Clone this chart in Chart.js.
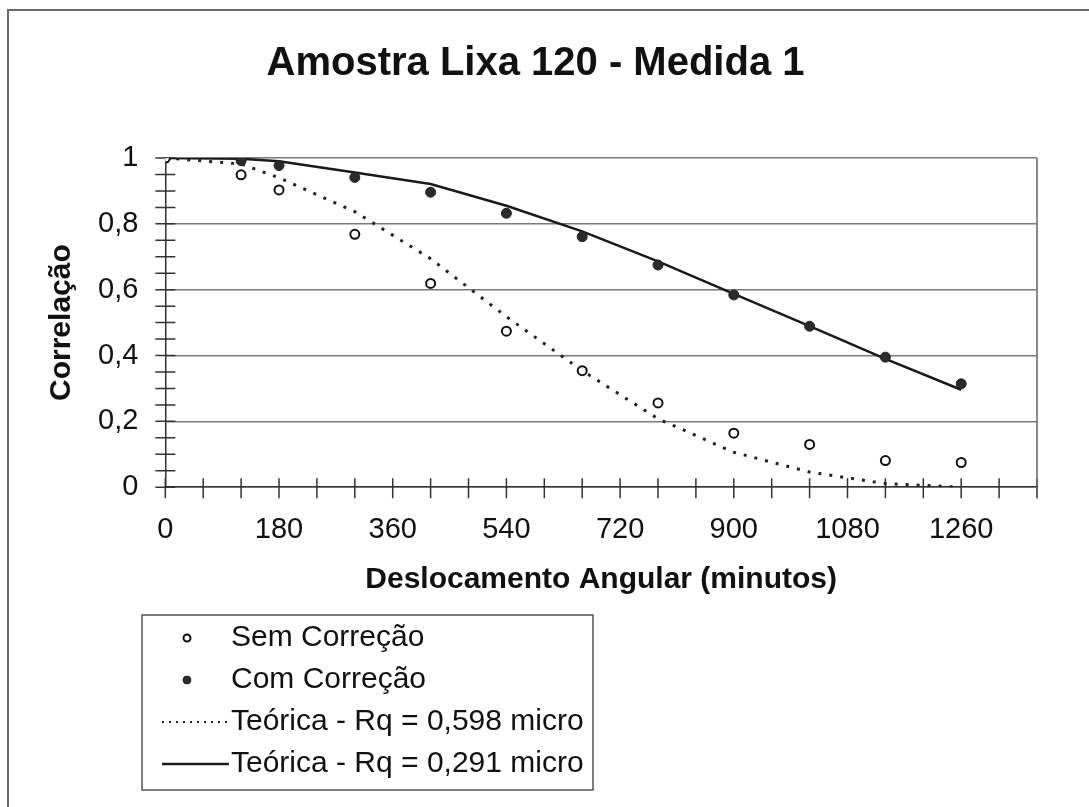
<!DOCTYPE html>
<html>
<head>
<meta charset="utf-8">
<title>Amostra Lixa 120 - Medida 1</title>
<script src="https://cdn.jsdelivr.net/npm/chart.js@4.4.1/dist/chart.umd.min.js"></script>
<style>
  html, body { margin: 0; padding: 0; background: #fff; }
  #moldura { position: relative; width: 1089px; height: 807px; overflow: hidden; }
  #moldura::before { content: ''; position: absolute; left: 7px; top: 9px; right: -10px; bottom: -10px; border: 2px solid #6a6a6a; }
  canvas { position: absolute; left: 0; top: 0; }
</style>
</head>
<body>
<div id="moldura"><canvas id="grafico" width="1089" height="807"></canvas></div>
<script>
// deslocamento angular (minutos)
const angulos = [0, 120, 180, 300, 420, 540, 660, 780, 900, 1020, 1140, 1260];
// correlação medida
const semCorrecao = [1.0, 0.949, 0.903, 0.768, 0.619, 0.474, 0.354, 0.256, 0.164, 0.130, 0.081, 0.075];
const comCorrecao = [1.0, 0.992, 0.977, 0.941, 0.896, 0.832, 0.761, 0.675, 0.584, 0.489, 0.395, 0.314];
// curvas teóricas
const teoricaRq0598 = [1.0, 0.982, 0.940, 0.837, 0.694, 0.518, 0.354, 0.208, 0.106, 0.046, 0.011, 0.0];
const teoricaRq0291 = [1.0, 0.998, 0.990, 0.956, 0.921, 0.855, 0.777, 0.686, 0.587, 0.489, 0.390, 0.296];

// eixos
const xMarcasPrincipais = [0, 180, 360, 540, 720, 900, 1080, 1260];
const yMarcasPrincipais = [0, 0.2, 0.4, 0.6, 0.8, 1];
const yRotulos = ['0', '0,2', '0,4', '0,6', '0,8', '1'];

Chart.defaults.font.family = '"Liberation Sans", Arial, sans-serif';
Chart.defaults.color = '#111';

const pontos = (ys) => angulos.map((a, i) => ({ x: a, y: ys[i] }));

// marcas cruzando os eixos + borda direita da área
const marcasEixos = {
    id: 'marcasEixos',
    beforeDatasetsDraw(chart) {
        const { ctx, chartArea, scales: { x, y } } = chart;
        ctx.save();
        ctx.strokeStyle = '#333';
        ctx.lineWidth = 1.5;
        ctx.beginPath();
        x.ticks.forEach(t => {
            const px = x.getPixelForValue(t.value);
            ctx.moveTo(px, chartArea.bottom - 9);
            ctx.lineTo(px, chartArea.bottom + 11);
        });
        y.ticks.forEach(t => {
            const py = y.getPixelForValue(t.value);
            ctx.moveTo(chartArea.left - 10, py);
            ctx.lineTo(chartArea.left + 10, py);
        });
        ctx.stroke();
        ctx.strokeStyle = '#666';
        ctx.beginPath();
        ctx.moveTo(chartArea.right, chartArea.top);
        ctx.lineTo(chartArea.right, chartArea.bottom + 11);
        ctx.stroke();
        ctx.restore();
    }
};

// legenda em caixa, uma entrada por linha
const legendaCaixa = {
    id: 'legendaCaixa',
    afterDraw(chart) {
        const ctx = chart.ctx;
        const caixa = { left: 142, top: 615, right: 593, bottom: 790 };
        ctx.save();
        ctx.strokeStyle = '#555';
        ctx.lineWidth = 1.5;
        ctx.strokeRect(caixa.left, caixa.top, caixa.right - caixa.left, caixa.bottom - caixa.top);
        ctx.font = '30px "Liberation Sans", Arial, sans-serif';
        ctx.textBaseline = 'middle';
        chart.data.datasets.forEach((ds, i) => {
            const yy = caixa.top + 23 + i * 42;
            if (ds.showLine) {
                ctx.strokeStyle = ds.borderColor;
                ctx.lineWidth = ds.borderDash ? 2 : ds.borderWidth;
                ctx.setLineDash(ds.borderDash ? [2, 5] : []);
                ctx.beginPath();
                ctx.moveTo(162, yy);
                ctx.lineTo(229, yy);
                ctx.stroke();
                ctx.setLineDash([]);
            } else {
                ctx.beginPath();
                ctx.arc(187, yy, ds.pointRadius - 1, 0, Math.PI * 2);
                ctx.fillStyle = ds.pointBackgroundColor;
                ctx.fill();
                ctx.lineWidth = ds.pointBorderWidth;
                ctx.strokeStyle = ds.pointBorderColor;
                ctx.stroke();
            }
            ctx.fillStyle = '#111';
            ctx.fillText(ds.label, 231, yy);
        });
        ctx.restore();
    }
};

const grafico = new Chart(document.getElementById('grafico'), {
    type: 'scatter',
    data: {
        datasets: [{
            label: 'Sem Correção',
            data: pontos(semCorrecao),
            showLine: false,
            pointStyle: 'circle',
            pointRadius: 4.5,
            pointBorderWidth: 2,
            pointBorderColor: '#111',
            pointBackgroundColor: '#fff'
        }, {
            label: 'Com Correção',
            data: pontos(comCorrecao),
            showLine: false,
            pointStyle: 'circle',
            pointRadius: 5,
            pointBorderWidth: 1,
            pointBorderColor: '#222',
            pointBackgroundColor: '#2b2b2b'
        }, {
            label: 'Teórica - Rq = 0,598 micro',
            data: pontos(teoricaRq0598),
            showLine: true,
            pointRadius: 0,
            borderColor: '#222',
            borderWidth: 3,
            borderDash: [3, 8]
        }, {
            label: 'Teórica - Rq = 0,291 micro',
            data: pontos(teoricaRq0291),
            showLine: true,
            pointRadius: 0,
            borderColor: '#1a1a1a',
            borderWidth: 2.5
        }]
    },
    options: {
        responsive: false,
        animation: false,
        layout: { padding: { top: 0, left: 34, right: 52, bottom: 209 } },
        plugins: {
            legend: { display: false },
            tooltip: { enabled: false },
            title: {
                display: true,
                text: 'Amostra Lixa 120 - Medida 1',
                color: '#111',
                font: { size: 40, weight: 'bold' },
                padding: { top: 40, bottom: 70 }
            }
        },
        scales: {
            x: {
                type: 'linear',
                min: 0,
                max: 1380,
                afterBuildTicks: (s) => {
                    const t = [];
                    for (let v = 0; v <= 1380; v += 60) t.push({ value: v });
                    s.ticks = t;
                },
                ticks: {
                    autoSkip: false,
                    maxRotation: 0,
                    padding: 25,
                    font: { size: 29 },
                    color: '#111',
                    callback: (v) => xMarcasPrincipais.includes(v) ? String(v) : ''
                },
                grid: { drawOnChartArea: false, drawTicks: false },
                border: { color: '#333', width: 1.5 },
                title: {
                    display: true,
                    text: 'Deslocamento Angular (minutos)',
                    color: '#111',
                    font: { size: 30, weight: 'bold' },
                    padding: { top: -10, bottom: 0 }
                }
            },
            y: {
                min: 0,
                max: 1,
                afterBuildTicks: (s) => {
                    const t = [];
                    for (let i = 0; i <= 20; i++) t.push({ value: Math.round(i * 5) / 100 });
                    s.ticks = t;
                },
                ticks: {
                    autoSkip: false,
                    padding: 27,
                    font: { size: 29 },
                    color: '#111',
                    callback: (v) => {
                        const k = yMarcasPrincipais.indexOf(v);
                        return k >= 0 ? yRotulos[k] : '';
                    }
                },
                grid: {
                    drawTicks: false,
                    lineWidth: 1.5,
                    color: (c) => yMarcasPrincipais.includes(c.tick ? c.tick.value : -1) ? '#7a7a7a' : 'rgba(0,0,0,0)'
                },
                border: { color: '#333', width: 1.5 },
                title: {
                    display: true,
                    text: 'Correlação',
                    color: '#111',
                    font: { size: 30, weight: 'bold' },
                    padding: { top: 10, bottom: -9 }
                }
            }
        }
    },
    plugins: [marcasEixos, legendaCaixa]
});
</script>
</body>
</html>
